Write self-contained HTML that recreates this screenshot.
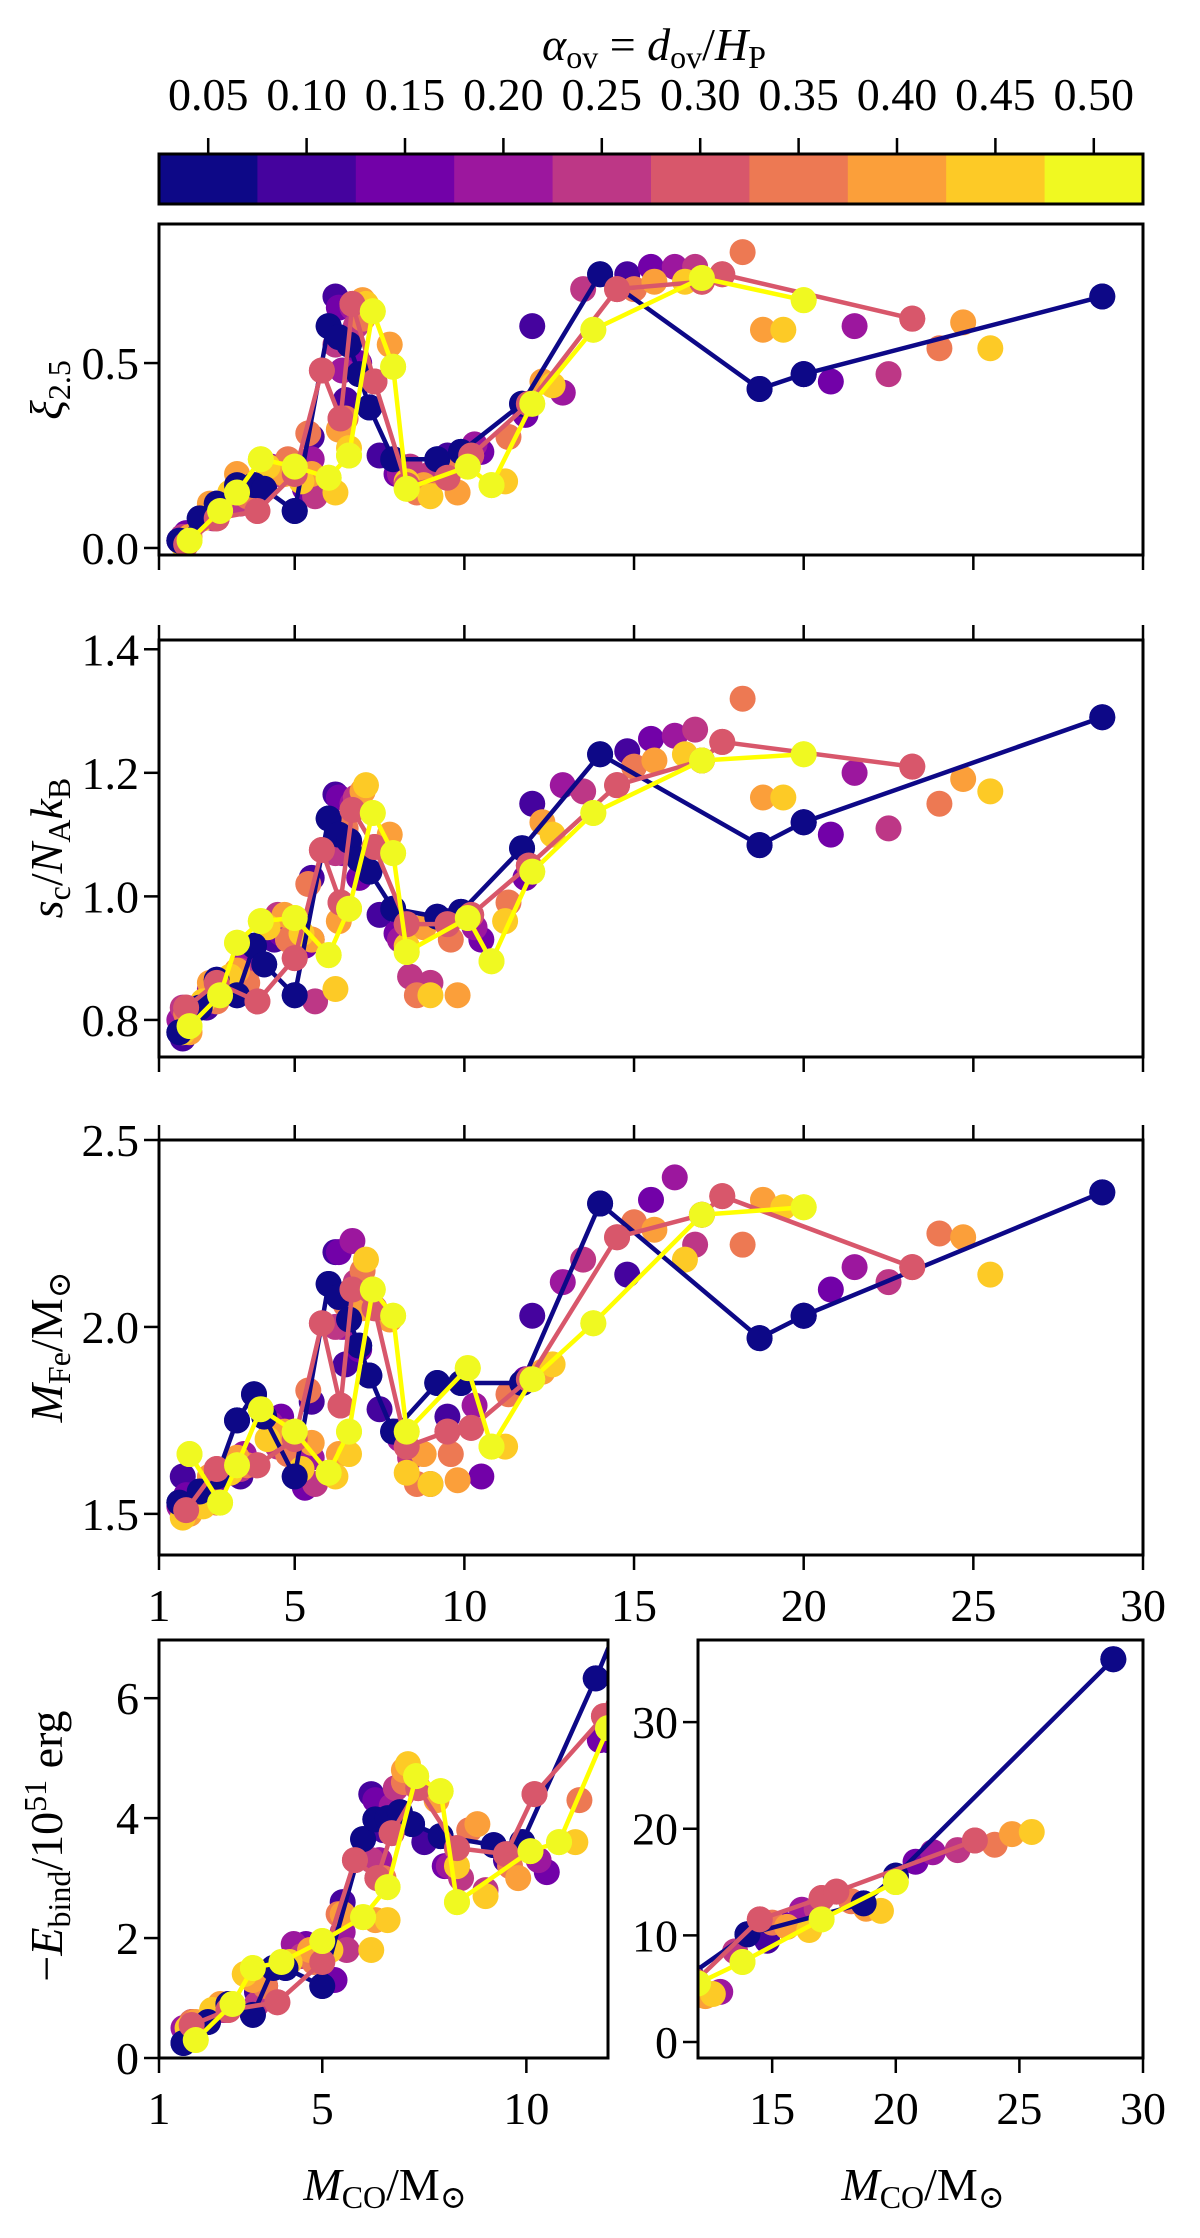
<!DOCTYPE html>
<html><head><meta charset="utf-8">
<style>
html,body{margin:0;padding:0;background:#fff;}
svg{display:block;font-family:"Liberation Serif","DejaVu Serif",serif;}
</style></head>
<body>
<svg id="fig" width="1200" height="2238" viewBox="0 0 1200 2238" xmlns="http://www.w3.org/2000/svg">
  <g id="cbar"></g>
  <g id="p1"></g>
  <g id="p2"></g>
  <g id="p3"></g>
  <g id="p4a"></g>
  <g id="p4b"></g>
</svg>
<script>
const alphaLabels = ["0.05","0.10","0.15","0.20","0.25","0.30","0.35","0.40","0.45","0.50"];
const alphaColors = ["#0d0887","#45039e","#7201a8","#9c179e","#bd3786","#d8576b","#ed7953","#fb9f3a","#fdca26","#f0f921"];
const lineSeries = [0,5,9];
const lineColors = {0:"#0d0887",5:"#d8576b",9:"#ffff00"};

const mco0=[1.6,2.2,2.7,3.3,3.8,4.1,5.0,6.0,6.3,6.6,6.9,7.2,7.9,9.2,9.9,11.7,14.0,18.7,20.0,28.8];
const xi0=[0.02,0.08,0.12,0.17,0.17,0.16,0.10,0.60,0.57,0.55,0.47,0.38,0.24,0.24,0.26,0.39,0.74,0.43,0.47,0.68];
const sc0=[0.78,0.82,0.865,0.84,0.92,0.89,0.84,1.126,1.10,1.09,1.06,1.04,0.98,0.967,0.975,1.078,1.23,1.083,1.12,1.29];
const mfe0=[1.53,1.56,1.60,1.75,1.82,1.76,1.60,2.115,2.08,2.02,1.95,1.87,1.72,1.85,1.85,1.85,2.33,1.97,2.03,2.36];
const eb0=[0.25,0.6,0.9,0.72,1.5,1.5,1.2,3.65,3.98,4.0,4.1,3.9,3.7,3.55,3.6,6.33,10.1,13.0,15.6,35.9];

const mco1=[1.7,2.4,3.4,4.4,5.5,6.2,6.5,7.5,9.5,12.0,14.8,20.0];
const xi1=[0.03,0.09,0.15,0.20,0.30,0.68,0.40,0.25,0.25,0.60,0.74,0.47];
const sc1=[0.77,0.82,0.87,0.93,1.03,1.165,1.10,0.97,0.96,1.15,1.235,1.12];
const mfe1=[1.6,1.55,1.6,1.72,1.80,2.20,1.90,1.78,1.76,2.03,2.14,2.03];
const eb1=[0.5,0.8,1.1,1.8,2.6,4.4,3.8,3.6,3.3,5.3,9.5,15.5];

const mco2=[1.8,2.6,3.6,4.6,5.3,6.3,6.9,8.0,10.5,11.8,15.5,20.8];
const xi2=[0.04,0.1,0.17,0.21,0.16,0.65,0.50,0.20,0.26,0.36,0.76,0.45];
const sc2=[0.79,0.83,0.88,0.94,0.92,1.16,1.03,0.94,0.93,1.03,1.255,1.10];
const mfe2=[1.55,1.56,1.63,1.76,1.57,2.20,1.94,1.72,1.60,1.86,2.34,2.10];
const eb2=[0.6,0.8,1.2,1.9,1.3,4.3,4.0,3.2,3.1,5.3,11.0,16.9];

const mco3=[1.6,2.5,3.5,4.3,5.5,6.4,6.7,8.1,10.3,12.9,16.2,21.5];
const xi3=[0.02,0.1,0.16,0.22,0.24,0.48,0.65,0.20,0.28,0.42,0.76,0.60];
const sc3=[0.8,0.85,0.9,0.96,0.93,1.07,1.15,0.93,0.95,1.18,1.26,1.2];
const mfe3=[1.52,1.58,1.66,1.74,1.65,2.00,2.23,1.70,1.79,2.12,2.40,2.16];
const eb3=[0.5,0.8,1.3,1.9,2.1,3.3,4.2,3.2,3.3,4.7,12.4,17.8];

const mco4=[1.7,2.6,3.4,4.5,5.6,6.2,6.8,8.4,9.0,13.5,16.8,22.5];
const xi4=[0.03,0.08,0.12,0.20,0.14,0.55,0.60,0.22,0.20,0.70,0.76,0.47];
const sc4=[0.82,0.84,0.88,0.97,0.83,1.07,1.16,0.87,0.86,1.17,1.27,1.11];
const mfe4=[1.5,1.60,1.62,1.68,1.58,2.00,2.12,1.65,1.58,2.18,2.22,2.12];
const eb4=[0.5,0.8,0.9,1.7,1.8,3.3,4.5,3.0,2.8,8.5,12.5,18.0];

const mco5=[1.8,2.7,3.9,5.0,5.8,6.35,6.7,7.35,8.3,9.5,10.2,11.9,14.5,17.0,17.6,23.2];
const xi5=[0.01,0.08,0.10,0.20,0.48,0.35,0.66,0.45,0.17,0.19,0.25,0.39,0.70,0.72,0.74,0.62];
const sc5=[0.82,0.86,0.83,0.90,1.075,0.99,1.14,1.08,0.955,0.955,0.97,1.05,1.18,1.22,1.25,1.21];
const mfe5=[1.51,1.62,1.63,1.70,2.01,1.79,2.10,2.05,1.68,1.72,1.73,1.86,2.24,2.30,2.35,2.16];
const eb5=[0.55,0.8,0.93,1.6,3.3,3.0,3.75,4.5,3.5,3.4,4.4,5.7,11.5,13.5,14.1,18.9];

const mco6=[1.8,2.7,3.6,4.8,5.4,6.5,7.0,8.6,9.6,11.3,15.0,18.2,24.0];
const xi6=[0.02,0.1,0.14,0.24,0.31,0.35,0.62,0.15,0.22,0.30,0.70,0.80,0.54];
const sc6=[0.81,0.83,0.86,0.93,1.02,1.11,1.17,0.84,0.93,0.99,1.21,1.32,1.15];
const mfe6=[1.52,1.53,1.63,1.66,1.83,2.06,2.15,1.58,1.66,1.82,2.28,2.22,2.25];
const eb6=[0.6,0.9,1.2,1.6,2.4,3.0,4.6,3.8,3.2,4.3,11.2,13.2,18.5];

const mco7=[1.9,2.5,3.3,4.7,5.5,6.3,7.0,7.8,8.8,9.8,12.3,15.6,18.8,24.7];
const xi7=[0.03,0.12,0.20,0.20,0.20,0.32,0.67,0.55,0.17,0.15,0.45,0.72,0.59,0.61];
const sc7=[0.78,0.86,0.88,0.97,0.93,0.96,1.17,1.10,0.95,0.84,1.12,1.22,1.16,1.19];
const mfe7=[1.5,1.6,1.65,1.72,1.69,1.66,2.05,2.02,1.66,1.59,1.88,2.26,2.34,2.24];
const eb7=[0.6,0.9,1.3,1.8,2.4,2.3,4.8,4.3,3.9,3.0,4.3,10.8,12.5,19.5];

const mco8=[1.7,2.3,3.1,4.2,5.2,6.2,6.6,7.1,8.3,9.0,11.2,12.6,16.5,19.4,25.5];
const xi8=[0.01,0.08,0.15,0.22,0.18,0.15,0.27,0.66,0.18,0.14,0.18,0.44,0.72,0.59,0.54];
const sc8=[0.78,0.83,0.87,0.95,0.94,0.85,0.98,1.18,0.92,0.84,0.96,1.10,1.23,1.16,1.17];
const mfe8=[1.49,1.52,1.61,1.70,1.62,1.60,1.66,2.18,1.61,1.58,1.68,1.90,2.18,2.32,2.14];
const eb8=[0.5,0.8,1.4,1.6,1.8,1.8,2.3,4.9,3.2,2.7,3.6,4.5,10.5,12.3,19.7];

const mco9=[1.9,2.8,3.3,4.0,5.0,6.0,6.6,7.3,7.9,8.3,10.1,10.8,12.0,13.8,17.0,20.0];
const xi9=[0.02,0.10,0.15,0.24,0.22,0.19,0.25,0.64,0.49,0.16,0.22,0.17,0.39,0.59,0.73,0.67];
const sc9=[0.79,0.84,0.925,0.96,0.965,0.905,0.98,1.135,1.07,0.91,0.965,0.895,1.04,1.135,1.22,1.23];
const mfe9=[1.66,1.53,1.63,1.78,1.72,1.61,1.72,2.10,2.03,1.72,1.89,1.68,1.86,2.01,2.30,2.32];
const eb9=[0.3,0.9,1.5,1.6,1.95,2.35,2.85,4.7,4.45,2.6,3.45,3.6,5.5,7.5,11.5,15.0];

const xTicksMain=[1,5,10,15,20,25,30];
const xTicksLow=[1,5,10];
const xTicksHigh=[15,20,25,30];
const yTicks1=[0.0,0.5]; const yLab1=["0.0","0.5"];
const yTicks2=[0.8,1.0,1.2,1.4]; const yLab2=["0.8","1.0","1.2","1.4"];
const yTicks3=[1.5,2.0,2.5]; const yLab3=["1.5","2.0","2.5"];
const yTicks4a=[0,2,4,6];
const yTicks4b=[0,10,20,30];

const MCO=[mco0,mco1,mco2,mco3,mco4,mco5,mco6,mco7,mco8,mco9];
const XI=[xi0,xi1,xi2,xi3,xi4,xi5,xi6,xi7,xi8,xi9];
const SC=[sc0,sc1,sc2,sc3,sc4,sc5,sc6,sc7,sc8,sc9];
const MFE=[mfe0,mfe1,mfe2,mfe3,mfe4,mfe5,mfe6,mfe7,mfe8,mfe9];
const EB=[eb0,eb1,eb2,eb3,eb4,eb5,eb6,eb7,eb8,eb9];

const NS="http://www.w3.org/2000/svg";
function mk(tag,attrs,parent){const e=document.createElementNS(NS,tag);for(const k in attrs)e.setAttribute(k,attrs[k]);parent.appendChild(e);return e;}

const FS=46;
const RAD=13;
function panel(g,id,L,R,T,B,xmin,xmax,ymin,ymax,opts){
  const sx=v=>L+(v-xmin)/(xmax-xmin)*(R-L);
  const sy=v=>B-(v-ymin)/(ymax-ymin)*(B-T);
  const cp=mk("clipPath",{id:"clip"+id},g);
  mk("rect",{x:L,y:T,width:R-L,height:B-T},cp);
  const data=mk("g",{"clip-path":"url(#clip"+id+")"},g);
  
  
  for(let s=0;s<10;s++){
    const xs=MCO[s],ys=opts.Y[s];
    for(let i=0;i<xs.length;i++){
      const c=mk("circle",{cx:sx(xs[i]),cy:sy(ys[i]),r:RAD,fill:alphaColors[s]},data);
      
      
    }
  }
  for(const s of lineSeries){
    const xs=MCO[s],ys=opts.Y[s];
    const pts=xs.map((v,i)=>sx(v)+","+sy(ys[i])).join(" ");
    const pl=mk("polyline",{points:pts,fill:"none",stroke:lineColors[s],"stroke-width":4.5,"stroke-linejoin":"round"},data);
    
    
    for(let i=0;i<xs.length;i++){
      const c=mk("circle",{cx:sx(xs[i]),cy:sy(ys[i]),r:RAD,fill:alphaColors[s]},data);
      
      
    }
  }
  const fr=mk("rect",{x:L,y:T,width:R-L,height:B-T,fill:"none",stroke:"#000","stroke-width":3},g);
  
  
  opts.yt.forEach((v,i)=>{
    const y=sy(v);
    mk("line",{x1:L-15,x2:L,y1:y,y2:y,stroke:"#000","stroke-width":2.5},g);
    const t=mk("text",{x:L-20,y:y+16,"font-size":FS,"text-anchor":"end"},g);
    t.textContent=opts.yl?opts.yl[i]:String(v);
    
    
  });
  opts.xt.forEach(v=>{
    const x=sx(v);
    if(opts.bottom){mk("line",{x1:x,x2:x,y1:B,y2:B+15,stroke:"#000","stroke-width":2.5},g);}
    if(opts.top){mk("line",{x1:x,x2:x,y1:T-15,y2:T,stroke:"#000","stroke-width":2.5},g);}
    if(opts.xlabels){
      const t=mk("text",{x:x,y:B+66,"font-size":FS,"text-anchor":"middle"},g);
      t.textContent=String(v);
      
      
    }
  });
}

(function(){
  const g=document.getElementById("cbar");
  const L=159,R=1143,T=154,B=204,w=(R-L)/10;
  for(let i=0;i<10;i++){
    const r=mk("rect",{x:L+i*w,y:T,width:w+0.5,height:B-T,fill:alphaColors[i]},g);
    
    
    const cx=L+(i+0.5)*w;
    mk("line",{x1:cx,x2:cx,y1:138,y2:T,stroke:"#000","stroke-width":2.5},g);
    const t=mk("text",{x:cx,y:110,"font-size":FS,"text-anchor":"middle"},g);
    t.textContent=alphaLabels[i];
    
    
  }
  mk("rect",{x:L,y:T,width:R-L,height:B-T,fill:"none",stroke:"#000","stroke-width":3},g);
})();

panel(document.getElementById("p1"),"1",159,1143,224,555,1,30,-0.019,0.876,{Y:XI,yt:yTicks1,yl:yLab1,xt:xTicksMain,bottom:true});
panel(document.getElementById("p2"),"2",159,1143,640,1057,1,30,0.74,1.415,{Y:SC,yt:yTicks2,yl:yLab2,xt:xTicksMain,bottom:true,top:true});
panel(document.getElementById("p3"),"3",159,1143,1140,1555,1,30,1.39,2.5,{Y:MFE,yt:yTicks3,yl:yLab3,xt:xTicksMain,bottom:true,top:true,xlabels:true});
panel(document.getElementById("p4a"),"4a",159,608,1640,2058,1,12,0,6.97,{Y:EB,yt:yTicks4a,xt:xTicksLow,bottom:true,xlabels:true});
panel(document.getElementById("p4b"),"4b",698,1143,1640,2058,12,30,-1.5,37.7,{Y:EB,yt:yTicks4b,xt:xTicksHigh,bottom:true,xlabels:true});
</script>
<svg style="position:absolute;left:0;top:0" width="1200" height="2238" viewBox="0 0 1200 2238" xmlns="http://www.w3.org/2000/svg" font-family="Liberation Serif, DejaVu Serif, serif">
  <text x="654" y="60" font-size="46" text-anchor="middle"><tspan font-style="italic">α</tspan><tspan font-size="32" dy="8">ov</tspan><tspan dy="-8"> = </tspan><tspan font-style="italic">d</tspan><tspan font-size="32" dy="8">ov</tspan><tspan dy="-8">/</tspan><tspan font-style="italic">H</tspan><tspan font-size="32" dy="8">P</tspan></text>
  <text transform="translate(62,390) rotate(-90)" font-size="46" text-anchor="middle"><tspan font-style="italic">ξ</tspan><tspan font-size="32" dy="8">2.5</tspan></text>
  <text transform="translate(62,848) rotate(-90)" font-size="46" text-anchor="middle"><tspan font-style="italic">s</tspan><tspan font-size="32" dy="8">c</tspan><tspan dy="-8">/</tspan><tspan font-style="italic">N</tspan><tspan font-size="32" dy="8">A</tspan><tspan dy="-8" font-style="italic">k</tspan><tspan font-size="32" dy="8">B</tspan></text>
  <text transform="translate(62,1347) rotate(-90)" font-size="46" text-anchor="middle"><tspan font-style="italic">M</tspan><tspan font-size="32" dy="8">Fe</tspan><tspan dy="-8">/M</tspan><tspan font-size="32" dy="8">⊙</tspan></text>
  <text transform="translate(62,1846) rotate(-90)" font-size="46" text-anchor="middle">−<tspan font-style="italic">E</tspan><tspan font-size="32" dy="8">bind</tspan><tspan dy="-8">/10</tspan><tspan font-size="32" dy="-16">51</tspan><tspan dy="16"> erg</tspan></text>
  <text x="385" y="2200" font-size="46" text-anchor="middle"><tspan font-style="italic">M</tspan><tspan font-size="32" dy="8">CO</tspan><tspan dy="-8">/M</tspan><tspan font-size="32" dy="8">⊙</tspan></text>
  <text x="923" y="2200" font-size="46" text-anchor="middle"><tspan font-style="italic">M</tspan><tspan font-size="32" dy="8">CO</tspan><tspan dy="-8">/M</tspan><tspan font-size="32" dy="8">⊙</tspan></text>
</svg>
</body></html>
